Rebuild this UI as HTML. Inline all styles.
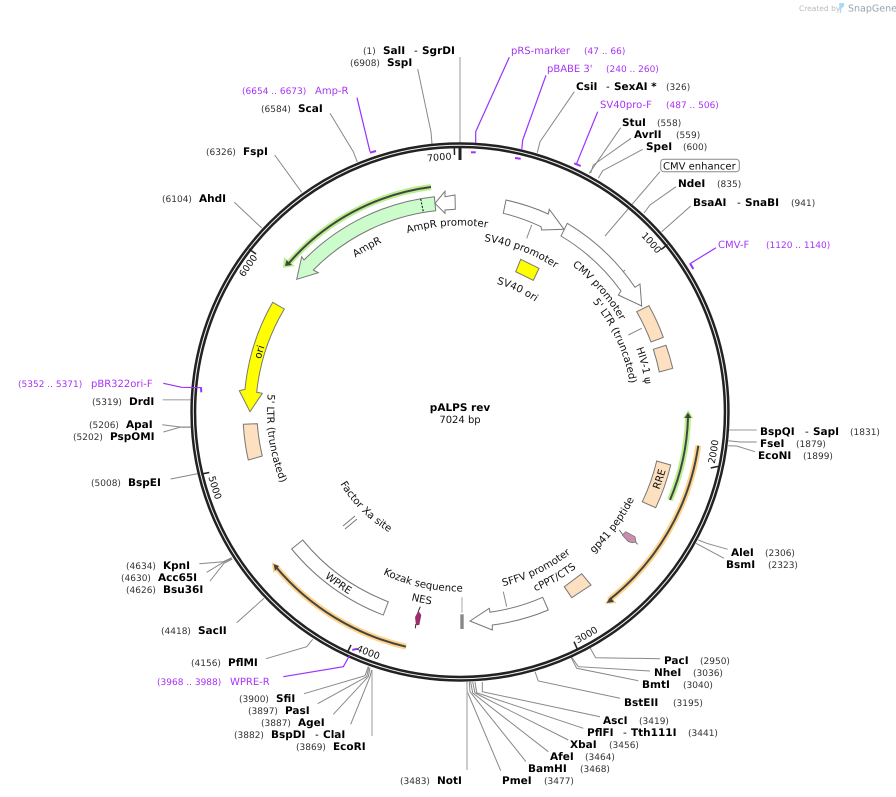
<!DOCTYPE html>
<html><head><meta charset="utf-8"><title>pALPS rev</title>
<style>
html,body{margin:0;padding:0;background:#fff;width:896px;height:797px;overflow:hidden}
svg{display:block}
text{font-family:"DejaVu Sans","Liberation Sans",sans-serif;text-rendering:geometricPrecision}
.b{font-weight:bold;font-size:10.5px;fill:#000}
.n{font-size:9px;fill:#333}
.p{font-size:10px;fill:#a633f5}
.q{font-size:9px;fill:#a633f5}
.f{font-size:10.2px;fill:#111}
.g{font-size:9.5px;fill:#111}
.l{fill:none;stroke:#888;stroke-width:1}
.t{fill:none;stroke:#bbb;stroke-width:1.5}
.v{fill:none;stroke:#9b30ff;stroke-width:1.2}
.k{fill:none;stroke:#9b30ff;stroke-width:2}
.w{fill:#fff;stroke:#777;stroke-width:1}
.o{fill:#fde0bf;stroke:#777;stroke-width:1}
</style></head><body>
<svg width="896" height="797" viewBox="0 0 896 797" xmlns="http://www.w3.org/2000/svg">
<defs>
<path id="c186" d="M460,597.5A186,186 0 1 1 460,225.5A186,186 0 1 1 460,597.5"/>
<path id="c172" d="M460,583.5A172,172 0 1 1 460,239.5A172,172 0 1 1 460,583.5"/>
<path id="c133" d="M460,544.5A133,133 0 1 1 460,278.5A133,133 0 1 1 460,544.5"/>
<path id="c184" d="M460,595.5A184,184 0 1 1 460,227.5A184,184 0 1 1 460,595.5"/>
<path id="c187" d="M460,598.5A187,187 0 1 1 460,224.5A187,187 0 1 1 460,598.5"/>
<path id="c206" d="M460,617.5A206,206 0 1 1 460,205.5A206,206 0 1 1 460,617.5"/>
<path id="c252" d="M460,663.5A252,252 0 1 1 460,159.5A252,252 0 1 1 460,663.5"/>
<path id="c254" d="M460,665.5A254,254 0 1 1 460,157.5A254,254 0 1 1 460,665.5"/>
<path id="a193" d="M460,218.5A193,193 0 1 0 460,604.5A193,193 0 1 0 460,218.5"/>
<path id="a140" d="M460,271.5A140,140 0 1 0 460,551.5A140,140 0 1 0 460,271.5"/>
<path id="a214" d="M460,197.5A214,214 0 1 0 460,625.5A214,214 0 1 0 460,197.5"/>
<path id="a180" d="M460,231.5A180,180 0 1 0 460,591.5A180,180 0 1 0 460,231.5"/>
<path id="a195" d="M460,216.5A195,195 0 1 0 460,606.5A195,195 0 1 0 460,216.5"/>
<path id="a260" d="M460,151.5A260,260 0 1 0 460,671.5A260,260 0 1 0 460,151.5"/>
<path id="a261" d="M460,150.5A261,261 0 1 0 460,672.5A261,261 0 1 0 460,150.5"/>
</defs>

<!-- logo -->
<text x="799" y="11" style="font-size:7.5px;fill:#bbb">Created by</text>
<path d="M839,3h5c1,3-1,5-2.500,5l-.5,5h-1z" fill="#a9dcf2"/>
<text x="848" y="11.500" style="font-size:9.500px;fill:#99a4ab">SnapGene</text>

<!-- connector lines -->
<path class="t" d="M460,57V146"/>
<path class="l" d="M417.700,69L431,132L432,144"/>
<path class="l" d="M330,113.300L353.300,151.700L357.300,162"/>
<path class="l" d="M274.700,155L301.700,192.300"/>
<path class="l" d="M234.300,202.300L261.700,228"/>
<path class="l" d="M574.300,91.700L540,141.700L537.300,152.700"/>
<path class="l" d="M620.700,127.700L589.300,173.300"/>
<path class="l" d="M631,138.300L593.300,165L590.700,173"/>
<path class="l" d="M642.700,149.300L602.700,170.700L598.300,178.300"/>
<path class="l" d="M660,171.700L605,236"/>
<path class="l" d="M676,186.700L650,205L644,213"/>
<path class="l" d="M690.700,206L661.700,231.700"/>
<path class="t" d="M756.700,430H728.300"/>
<path class="l" d="M756.700,442H740L728.300,440.700"/>
<path class="l" d="M755,451.700L736.700,446L728.300,445.700"/>
<path class="l" d="M727.700,549.300L706.700,543.300L698.300,540"/>
<path class="l" d="M724,558.300L696,543.300"/>
<path class="l" d="M660,658.700L595.700,657.700L590,647.700"/>
<path class="l" d="M650,671L578.300,666.700L571.700,657.300"/>
<path class="l" d="M638.300,680.700L576.700,668.300L571,657.300"/>
<path class="l" d="M620,698.300L538.300,681L535,671.700"/>
<path class="l" d="M600,716.700L482.300,691.700V682"/>
<path class="l" d="M583.300,728.300L476.700,692.700L475,682"/>
<path class="l" d="M568.300,740L475,693L472.700,682"/>
<path class="l" d="M548.300,751.700L472.700,693L470.700,682"/>
<path class="l" d="M526,761.700L470,691.700L469.300,682"/>
<path class="l" d="M500.700,770.700L467.300,691.700L466.700,682"/>
<path class="t" d="M467,770V682"/>
<path class="t" d="M372,736V670"/>
<path class="l" d="M350.700,724.300L370,676.700L371.700,670"/>
<path class="l" d="M333.300,714.300L368.300,676.700L370,668"/>
<path class="l" d="M317.700,703.700L366.700,676.700L369,666.700"/>
<path class="l" d="M304,693.700L365,675.700L368.300,666.700"/>
<path class="l" d="M266,658.700L306.700,646.700L312.700,639.300"/>
<path class="l" d="M236.700,622.700L264,598.300"/>
<path class="l" d="M199.300,563.700L223.300,561.700L231.700,557.700"/>
<path class="l" d="M206.700,572.300L223.300,562.300L231.700,558.300"/>
<path class="l" d="M210,581L224,563.300L232.300,559"/>
<path class="l" d="M170.700,479L197.300,473.700"/>
<path class="l" d="M162.300,424.700L180,427H190.700"/>
<path class="l" d="M163.300,432L180,427.300H190.700"/>
<path class="t" d="M162.700,399.700H190.700"/>
<path class="l" d="M531.700,225L526.700,238.300"/>
<path class="l" d="M625,270L615,279.300"/>
<path class="l" d="M628.300,335L641.700,328.300"/>
<path class="l" d="M503.300,591.700L506.700,606.700"/>
<path d="M343,526L355,516M345,529L357,519" fill="none" stroke="#777" stroke-width="1"/>

<!-- ring -->
<circle cx="460" cy="412" r="266.700" fill="none" stroke="#222" stroke-width="6"/>
<circle cx="460" cy="412" r="266.700" fill="none" stroke="#f4f4f4" stroke-width="1"/>

<!-- ticks -->
<path d="M460,146V160" stroke="#222" stroke-width="3" fill="none"/>
<g stroke="#222" stroke-width="1.500" fill="none">
<path d="M454.500,155L454.300,146"/>
<path d="M661.200,249.500L667.500,244.500"/>
<path d="M710.700,468L718,466.400"/>
<path d="M574,641.700L577.600,649.700"/>
<path d="M351,645L347.600,652"/>
<path d="M209.300,472.500L201.600,474"/>
<path d="M256,254L249,249"/>
</g>

<!-- primers -->
<path class="v" d="M509.300,57.300L475.700,131.700V143"/><path class="k" d="M471,152.300H475.700"/>
<path class="v" d="M546,75.300L522.700,140L521.700,150"/><path class="k" d="M515,158L520.700,158.700"/>
<path class="v" d="M597.700,111.700L576.700,163.300"/><path class="k" d="M574.300,163.300L580.700,166"/>
<path class="v" d="M357,97.700L370,151.700"/><path class="k" d="M370,152.700L376,151"/>
<path class="v" d="M716,247.700L690.700,263.300"/><path class="k" d="M690,263.300L693.300,269"/>
<path class="v" d="M283.300,676.700L343.300,666.700L349.300,656"/><path class="k" d="M352.300,650L357.300,648.700"/>
<path class="v" d="M163.300,383.300L181.700,387.300L201.700,387.700"/><path class="k" d="M201,387.300L201.300,392.300"/>

<!-- halo arcs -->
<g fill="none">
<path d="M431,187A226,226 0 0 0 289,263" stroke="#b8f08c" stroke-width="6"/>
<path d="M670,500A228,228 0 0 0 688,418" stroke="#b8f08c" stroke-width="6"/>
<path d="M698.300,445.700A241,241 0 0 1 609,600" stroke="#ffd48a" stroke-width="6"/>
<path d="M406,646.700A241,241 0 0 1 276,567" stroke="#ffd48a" stroke-width="6"/>
</g>
<polygon points="283,268 284,257 295,266" fill="#b8f08c"/>
<polygon points="688.300,410 682.700,418.300 693.300,418.300" fill="#b8f08c"/>
<polygon points="605,604 616.700,603.300 610,595" fill="#ffd48a"/>
<polygon points="271.700,562.300 279.300,565.700 273.300,573.300" fill="#ffd48a"/>
<g fill="none" stroke="#444" stroke-width="2">
<path d="M431,187A226,226 0 0 0 289,263"/>
<path d="M670,500A228,228 0 0 0 688,418"/>
<path d="M698.300,445.700A241,241 0 0 1 609,600"/>
<path d="M406,646.700A241,241 0 0 1 276,567"/>
</g>
<polygon points="285,266 286.500,260 292,265" fill="#444"/>
<polygon points="688,412.500 684.500,418 691.500,418" fill="#444"/>
<polygon points="606.500,603 614,602 610.500,597" fill="#444"/>
<polygon points="273.500,564 279,566 275,571" fill="#444"/>

<!-- features -->
<path d="M434.300,196.700A216,216 0 0 0 304,260L301.700,256.700L296.700,279.300L318.300,272.700L313.300,270A202,202 0 0 1 435.700,210.700Z" fill="#ccfccc" stroke="#777"/>
<path d="M420.700,199L423.300,211.700" stroke="#000" stroke-width="1" stroke-dasharray="2 1.500" fill="none"/>
<polygon class="w" points="435,203.300 445,191.300 445,196.700 455,195 455.300,209.300 445,210 445,213.300"/>
<path class="w" d="M506,200A216,216 0 0 1 548.300,214L549.300,209.300L564,229.300L541.700,230L541,226.700A203,203 0 0 0 503.300,213.300Z"/>
<path class="w" d="M567.300,223.300A216,216 0 0 1 635,287.300L640,284L641.700,306L618.300,295L621,291A202,202 0 0 0 561,236Z"/>
<path class="o" d="M636.700,311.700L649,305.700A216,216 0 0 1 663.300,337.300L651,342A203,203 0 0 0 636.700,311.700Z"/>
<path class="o" d="M653.300,349.300L666,345.300A216,216 0 0 1 672.700,368.300L659.300,372A203,203 0 0 0 653.300,349.300Z"/>
<path class="o" d="M656.700,461L670.700,465A217,217 0 0 1 655.700,507.700L642.300,501.700A203,203 0 0 0 656.700,461Z"/>
<path class="o" d="M243.300,424.300L257.300,423.700A203,203 0 0 0 262.300,456L248.300,460A216,216 0 0 1 243.300,424.300Z"/>
<polygon class="o" points="581.700,573.700 591,585 571.700,597.700 564.300,586.700"/>
<polygon points="520.700,259.300 539,268.300 533.300,280.300 515.700,271.700" fill="#ff0" stroke="#777"/>
<path d="M272.700,302.300A216,216 0 0 0 245,389.300L239.300,390.700L250,411.700L262.300,393.300L256.700,392.300A203,203 0 0 1 284.300,309Z" fill="#ff0" stroke="#777"/>
<path class="w" d="M302.700,540L291.700,549A218,218 0 0 0 383.300,615L388.300,601.700A204,204 0 0 1 302.700,540Z"/>
<path class="w" d="M542.700,597.300L548.300,610A216,216 0 0 1 492.300,625L492.300,630L470,621L489.300,608.300L490,612.300A203,203 0 0 0 542.700,597.300Z"/>
<path d="M619.300,530L623,535M635,541.700L637.700,544.300" stroke="#666" fill="none"/>
<polygon points="625.700,531.700 635,536.700 636,542 632.300,542.700 628.300,541.700 622.300,535" fill="#c78fab" stroke="#777" stroke-width=".8"/>
<path d="M420.300,606.700L418,612M415.800,624L415.300,628.300" stroke="#333" fill="none"/>
<polygon points="418.300,610.700 415,617.300 416,625.300 419.300,625 421.300,615" fill="#9b2d6b"/>
<path d="M462,597.300V612.700" stroke="#aaa" fill="none"/>
<rect x="460.300" y="614.300" width="3.400" height="14.700" fill="#888"/>

<!-- tick numbers -->
<text class="g"><textPath href="#c252" startOffset="48.7%" text-anchor="middle">7000</textPath></text>
<text class="g"><textPath href="#c254" startOffset="34.6%" text-anchor="middle">6000</textPath></text>
<text class="g"><textPath href="#c252" startOffset="63.5%" text-anchor="middle">1000</textPath></text>
<text class="g"><textPath href="#a260" startOffset="72.5%" text-anchor="middle">2000</textPath></text>
<text class="g"><textPath href="#a260" startOffset="58.2%" text-anchor="middle">3000</textPath></text>
<text class="g"><textPath href="#a261" startOffset="44.2%" text-anchor="middle">4000</textPath></text>
<text class="g"><textPath href="#a260" startOffset="29.8%" text-anchor="middle">5000</textPath></text>

<!-- feature labels -->
<text class="f"><textPath href="#c186" startOffset="48.9%" text-anchor="middle">AmpR promoter</textPath></text>
<text class="f"><textPath href="#c186" startOffset="41.8%" text-anchor="middle">AmpR</textPath></text>
<text class="f"><textPath href="#c172" startOffset="55.8%" text-anchor="middle">SV40 promoter</textPath></text>
<text class="f"><textPath href="#c133" startOffset="57%" text-anchor="middle">SV40 ori</textPath></text>
<text class="f"><textPath href="#c184" startOffset="63.6%" text-anchor="middle">CMV promoter</textPath></text>
<text class="f"><textPath href="#c172" startOffset="68.2%" text-anchor="middle">5' LTR (truncated)</textPath></text>
<text class="f"><textPath href="#c187" startOffset="71.1%" text-anchor="middle">HIV-1 ψ</textPath></text>
<text class="f"><textPath href="#c206" startOffset="29.6%" text-anchor="middle">ori</textPath></text>
<text class="f"><textPath href="#a193" startOffset="27.3%" text-anchor="middle">5' LTR (truncated)</textPath></text>
<text class="f"><textPath href="#a140" startOffset="37.6%" text-anchor="middle">Factor Xa site</textPath></text>
<text class="f"><textPath href="#a214" startOffset="40.2%" text-anchor="middle">WPRE</textPath></text>
<text class="f"><textPath href="#a214" startOffset="69.8%" text-anchor="middle">RRE</textPath></text>
<text class="f"><textPath href="#a180" startOffset="46.6%" text-anchor="middle">Kozak sequence</textPath></text>
<text class="f"><textPath href="#a180" startOffset="57.2%" text-anchor="middle">SFFV promoter</textPath></text>
<text class="f"><textPath href="#a195" startOffset="46.8%" text-anchor="middle">NES</textPath></text>
<text class="f"><textPath href="#a195" startOffset="58.25%" text-anchor="middle">cPPT/CTS</textPath></text>
<text class="f"><textPath href="#a195" startOffset="64.8%" text-anchor="middle">gp41 peptide</textPath></text>

<!-- centre -->
<text x="460" y="411" text-anchor="middle" class="b">pALPS rev</text>
<text x="460" y="423" text-anchor="middle" style="font-size:10px;fill:#111">7024 bp</text>

<!-- CMV enhancer -->
<rect x="660.700" y="159.300" width="78.600" height="12.400" rx="3" ry="3" fill="#fff" stroke="#888"/>
<text x="663" y="169.500" style="font-size:10px;fill:#111">CMV enhancer</text>

<!-- site labels -->
<text x="363" y="54" class="n">(1)</text><text x="383" y="54" class="b">SalI</text><text x="414" y="54" class="b" style="font-weight:normal">-</text><text x="422" y="54" class="b">SgrDI</text>
<text x="350" y="66" class="n">(6908)</text><text x="387" y="66" class="b">SspI</text>
<text x="242" y="94" class="q">(6654 .. 6673)</text><text x="315" y="94" class="p">Amp-R</text>
<text x="261" y="112" class="n">(6584)</text><text x="298" y="112" class="b">ScaI</text>
<text x="206" y="155" class="n">(6326)</text><text x="243" y="155" class="b">FspI</text>
<text x="162" y="202" class="n">(6104)</text><text x="199" y="202" class="b">AhdI</text>

<text x="511" y="54" class="p">pRS-marker</text><text x="584" y="54" class="q">(47 .. 66)</text>
<text x="547" y="72" class="p">pBABE 3'</text><text x="606" y="72" class="q">(240 .. 260)</text>
<text x="576" y="90" class="b">CsiI</text><text x="606" y="90" class="b" style="font-weight:normal">-</text><text x="614" y="90" class="b">SexAI *</text><text x="666" y="90" class="n">(326)</text>
<text x="600" y="108" class="p">SV40pro-F</text><text x="666" y="108" class="q">(487 .. 506)</text>
<text x="622" y="126" class="b">StuI</text><text x="657" y="126" class="n">(558)</text>
<text x="634" y="138" class="b">AvrII</text><text x="676" y="138" class="n">(559)</text>
<text x="646" y="150" class="b">SpeI</text><text x="683" y="150" class="n">(600)</text>
<text x="678" y="187" class="b">NdeI</text><text x="717" y="187" class="n">(835)</text>
<text x="693" y="206" class="b">BsaAI</text><text x="737" y="206" class="b" style="font-weight:normal">-</text><text x="745" y="206" class="b">SnaBI</text><text x="791" y="206" class="n">(941)</text>
<text x="718" y="248" class="p">CMV-F</text><text x="766" y="248" class="q">(1120 .. 1140)</text>

<text x="760" y="435" class="b">BspQI</text><text x="805" y="435" class="b" style="font-weight:normal">-</text><text x="813" y="435" class="b">SapI</text><text x="850" y="435" class="n">(1831)</text>
<text x="760" y="447" class="b">FseI</text><text x="796" y="447" class="n">(1879)</text>
<text x="758" y="459" class="b">EcoNI</text><text x="803" y="459" class="n">(1899)</text>
<text x="731" y="556" class="b">AleI</text><text x="765" y="556" class="n">(2306)</text>
<text x="726" y="568" class="b">BsmI</text><text x="768" y="568" class="n">(2323)</text>

<text x="664" y="664" class="b">PacI</text><text x="700" y="664" class="n">(2950)</text>
<text x="654" y="676" class="b">NheI</text><text x="693" y="676" class="n">(3036)</text>
<text x="642" y="688" class="b">BmtI</text><text x="683" y="688" class="n">(3040)</text>
<text x="624" y="706" class="b">BstEII</text><text x="673" y="706" class="n">(3195)</text>
<text x="603" y="724" class="b">AscI</text><text x="639" y="724" class="n">(3419)</text>
<text x="587" y="736" class="b">PflFI</text><text x="623" y="736" class="b" style="font-weight:normal">-</text><text x="631" y="736" class="b">Tth111I</text><text x="688" y="736" class="n">(3441)</text>
<text x="570" y="748" class="b">XbaI</text><text x="609" y="748" class="n">(3456)</text>
<text x="550" y="760" class="b">AfeI</text><text x="585" y="760" class="n">(3464)</text>
<text x="528" y="772" class="b">BamHI</text><text x="580" y="772" class="n">(3468)</text>
<text x="502" y="784" class="b">PmeI</text><text x="544" y="784" class="n">(3477)</text>
<text x="400" y="784" class="n">(3483)</text><text x="437" y="784" class="b">NotI</text>

<text x="296" y="750" class="n">(3869)</text><text x="333" y="750" class="b">EcoRI</text>
<text x="234" y="738" class="n">(3882)</text><text x="271" y="738" class="b">BspDI</text><text x="315" y="738" class="b" style="font-weight:normal">-</text><text x="323" y="738" class="b">ClaI</text>
<text x="261" y="726" class="n">(3887)</text><text x="298" y="726" class="b">AgeI</text>
<text x="248" y="714" class="n">(3897)</text><text x="285" y="714" class="b">PasI</text>
<text x="239" y="702" class="n">(3900)</text><text x="276" y="702" class="b">SfiI</text>
<text x="157" y="685" class="q">(3968 .. 3988)</text><text x="230" y="685" class="p">WPRE-R</text>
<text x="191" y="666" class="n">(4156)</text><text x="228" y="666" class="b">PflMI</text>
<text x="161" y="634" class="n">(4418)</text><text x="198" y="634" class="b">SacII</text>

<text x="126" y="569" class="n">(4634)</text><text x="163" y="569" class="b">KpnI</text>
<text x="121" y="581" class="n">(4630)</text><text x="158" y="581" class="b">Acc65I</text>
<text x="126" y="593" class="n">(4626)</text><text x="163" y="593" class="b">Bsu36I</text>
<text x="91" y="486" class="n">(5008)</text><text x="128" y="486" class="b">BspEI</text>
<text x="73" y="440" class="n">(5202)</text><text x="110" y="440" class="b">PspOMI</text>
<text x="89" y="428" class="n">(5206)</text><text x="126" y="428" class="b">ApaI</text>
<text x="92" y="405" class="n">(5319)</text><text x="129" y="405" class="b">DrdI</text>
<text x="18" y="387" class="q">(5352 .. 5371)</text><text x="91" y="387" class="p">pBR322ori-F</text>
</svg>
</body></html>
